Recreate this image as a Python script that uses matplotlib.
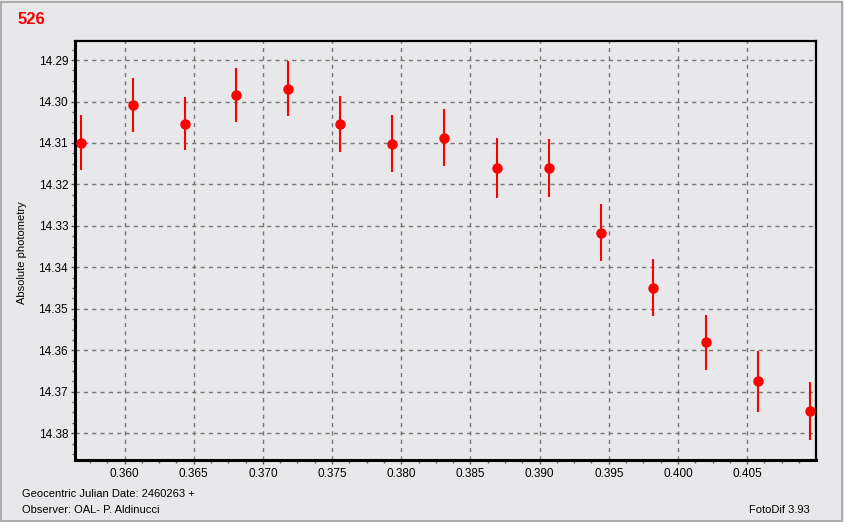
import matplotlib
matplotlib.use("Agg")
import matplotlib.pyplot as plt
from matplotlib.ticker import MultipleLocator
from matplotlib.patches import Rectangle
import numpy as np

# data
jd = [0.35682, 0.36058, 0.36434, 0.36809, 0.37185, 0.37560, 0.37936, 0.38312,
      0.38695, 0.39071, 0.39447, 0.39822, 0.40205, 0.40581, 0.40957]
mag = [14.3099, 14.3008, 14.3054, 14.2984, 14.2969, 14.3054, 14.3102, 14.3087,
       14.3160, 14.3160, 14.3316, 14.3449, 14.3581, 14.3675, 14.3747]
err = [0.0066, 0.0065, 0.0064, 0.0066, 0.0067, 0.0068, 0.0069, 0.0068,
       0.0072, 0.0070, 0.0069, 0.0069, 0.0066, 0.0073, 0.0070]

bg = "#e8e8ea"
plt.rcParams["font.family"] = ["Liberation Sans", "DejaVu Sans"]

fig = plt.figure(figsize=(8.44, 5.22), dpi=100, facecolor=bg)
ax = fig.add_axes([75/844, 1-460/522, 741/844, 419/522])
ax.set_facecolor(bg)

ax.errorbar(jd, mag, yerr=err, fmt="o", color="red", ecolor="red",
            elinewidth=1.5, markersize=6.5, capsize=0, zorder=3)

ax.set_xlim(0.35642, 0.40998)
ax.set_ylim(14.38646, 14.2854)
ax.xaxis.set_major_locator(MultipleLocator(0.005))
ax.xaxis.set_minor_locator(MultipleLocator(0.00125))
ax.yaxis.set_major_locator(MultipleLocator(0.01))
ax.yaxis.set_minor_locator(MultipleLocator(0.0025))
ax.xaxis.set_major_formatter(plt.FormatStrFormatter("%.3f"))
ax.yaxis.set_major_formatter(plt.FormatStrFormatter("%.2f"))
ax.grid(True, which="major", color="#777777", linestyle=(0, (3, 3)), linewidth=1)
ax.tick_params(which="major", length=3, width=1, labelsize=8.5, color="#555555", pad=2)
ax.tick_params(which="minor", length=2, width=1, color="#555555")
ax.tick_params(axis="x", which="major", pad=3)
for s in ax.spines.values():
    s.set_linewidth(1.6)
ax.spines["left"].set_linewidth(2.2)
ax.spines["bottom"].set_linewidth(2.2)

fig.text(18/844, 1-19/522, "526", color="red", fontsize=12, fontweight="bold", va="center")
fig.text(22/844, 1-253/522, "Absolute photometry", rotation=90, fontsize=8, va="center", ha="center")
fig.text(22/844, 1-494/522, "Geocentric Julian Date: 2460263 +", fontsize=8, va="center")
fig.text(22/844, 1-510/522, "Observer: OAL- P. Aldinucci", fontsize=8, va="center")
fig.text(810/844, 1-510/522, "FotoDif 3.93", fontsize=8, va="center", ha="right")

fig.patches.append(Rectangle((0.5/844, 1.5/522), 1-2.5/844, 1-3/522, transform=fig.transFigure,
                             fill=False, edgecolor="#a0a0a0", linewidth=1.2))

fig.savefig("out.png", dpi=100, facecolor=bg)
